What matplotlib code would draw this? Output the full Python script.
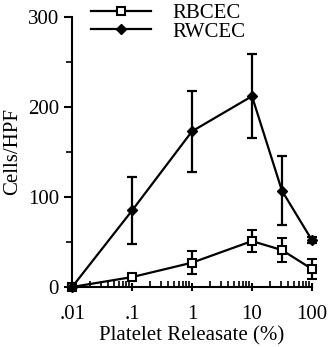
import numpy as np
from matplotlib import pyplot as plt
from matplotlib.lines import Line2D
from matplotlib.ticker import FixedLocator, NullFormatter

plt.rcParams['font.family'] = ['Liberation Serif', 'DejaVu Serif']

# platelet releasate concentration (%)
conc = [0.01, 0.1, 1, 10, 31.6, 100]
conc_labels = ['.01', '.1', '1', '10', '100']

rbcec = [0, 11, 27, 51, 41, 20]
rbcec_err = [0, 3, 13, 12, 13, 11]
rwcec = [0, 85, 173, 212, 107, 52]
rwcec_err = [0, 37, 45, 47, 38, 3]

fig = plt.figure(figsize=(3.28, 3.47), dpi=100)
ax = fig.add_axes([0.22, 0.173, 0.731, 0.778])

ax.errorbar(conc, rbcec, yerr=rbcec_err, color='black', lw=1.6, capsize=3.5,
            elinewidth=1.6, capthick=1.6, marker='s', ms=5.5, mfc='white',
            mec='black', mew=1.5, clip_on=False)
ax.plot(conc[1:], rbcec[1:], ls='none', marker='o', ms=1.5, color='black')
ax.errorbar(conc, rwcec, yerr=rwcec_err, color='black', lw=1.6, capsize=3.5,
            elinewidth=1.6, capthick=1.6, marker='D', ms=5.5, mfc='black',
            mec='black', clip_on=False)

ax.set_xscale('log')
ax.set_xlim(0.01, 100)
ax.set_ylim(0, 300)
ax.set_xticks([0.01, 0.1, 1, 10, 100])
ax.set_xticklabels(conc_labels)
ax.xaxis.set_minor_locator(FixedLocator(
    [m * 10.0 ** e for e in range(-2, 2) for m in range(2, 10)]))
ax.xaxis.set_minor_formatter(NullFormatter())
ax.set_yticks([0, 100, 200, 300])
ax.yaxis.set_minor_locator(FixedLocator([50, 150, 250]))

ax.tick_params(axis='x', which='major', direction='inout', length=6, width=1.5, labelsize=15, pad=10)
ax.tick_params(axis='x', which='minor', direction='in', length=4, width=1.2)
ax.tick_params(axis='y', which='major', direction='out', length=6, width=1.5, labelsize=15)
ax.tick_params(axis='y', which='minor', direction='out', length=4, width=1.2)

for s in ['top', 'right']:
    ax.spines[s].set_visible(False)
for s in ['left', 'bottom']:
    ax.spines[s].set_linewidth(1.5)

ax.set_xlabel('Platelet Releasate (%)', fontsize=15, labelpad=1.5)
ax.set_ylabel('Cells/HPF', fontsize=15, labelpad=4)

handles = [
    Line2D([], [], color='black', lw=1.6, marker='s', ms=5.5, mfc='white', mew=1.5),
    Line2D([], [], color='black', lw=1.6, marker='D', ms=5.5, mfc='black'),
]
ax.legend(handles, ['RBCEC', 'RWCEC'], loc='upper left', bbox_to_anchor=(0.245, 1.02),
          bbox_transform=fig.transFigure, frameon=False, fontsize=15,
          handlelength=2.9, handletextpad=1.0, labelspacing=-0.05, borderpad=0)

fig.savefig('out.png', dpi=100)
